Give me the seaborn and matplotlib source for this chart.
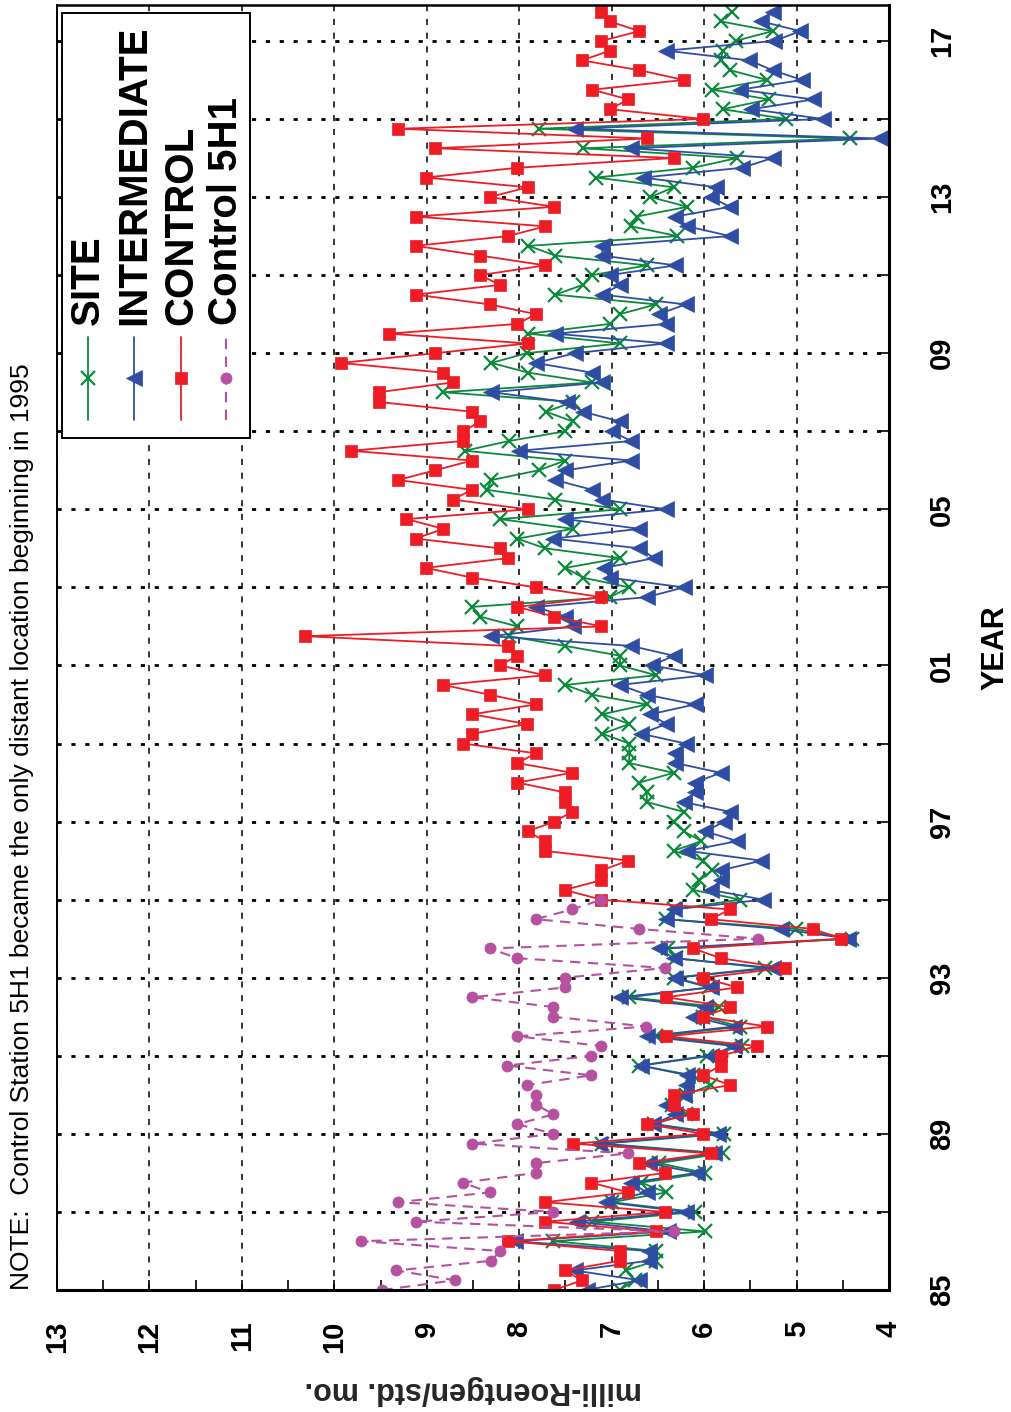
import numpy as np
import pandas as pd
import matplotlib
matplotlib.use("Agg")
import matplotlib.pyplot as plt
import seaborn as sns
from matplotlib.lines import Line2D
from matplotlib.patches import Rectangle
from matplotlib.ticker import FixedLocator, MultipleLocator

# ---------------- data (quarterly readings, first quarter 1985) ----------------
START_YEAR = 1985.0
STEP = 0.25

site = [
    6.91, 6.75, 6.85, 6.52, 6.52, 7.63, 5.99, 7.21, 6.10, 7.00,
    6.41, 6.68, 5.99, 6.49, 5.80, 7.10, 5.78, 6.54, 6.20, 6.35,
    6.20, 5.93, 6.12, 6.70, 5.97, 5.59, 6.52, 5.61, 6.01, 5.84,
    6.81, 5.95, 6.33, 5.34, 6.30, 6.39, 4.40, 5.01, 6.41, 6.33,
    5.61, 6.12, 6.05, 5.91, 6.01, 6.33, 6.03, 6.22, 6.33, 6.22,
    6.62, 6.62, 6.70, 6.33, 6.81, 6.81, 6.81, 7.10, 6.81, 7.10,
    6.62, 7.21, 7.50, 6.52, 6.91, 6.91, 7.50, 8.11, 8.02, 8.42,
    8.51, 7.02, 6.81, 7.31, 7.50, 6.91, 7.72, 8.02, 7.42, 8.21,
    6.91, 7.61, 8.35, 8.30, 7.79, 7.50, 8.59, 8.11, 7.50, 7.42,
    7.71, 7.42, 8.82, 7.21, 7.90, 8.30, 7.92, 6.91, 7.90, 7.02,
    6.91, 6.52, 7.61, 7.31, 7.21, 6.62, 7.61, 7.90, 6.29, 6.79,
    6.73, 6.18, 6.58, 6.33, 7.17, 6.12, 5.64, 7.31, 4.42, 7.79,
    5.11, 5.80, 5.30, 5.91, 5.32, 5.72, 5.82, 5.80, 5.66, 5.26,
    5.82, 5.70,
]

intermediate = [
    7.27, 6.70, 7.40, 6.60, 6.60, 8.05, 6.39, 7.38, 6.20, 7.06,
    6.62, 6.79, 6.08, 6.60, 5.89, 7.14, 5.85, 6.55, 6.31, 6.41,
    6.22, 6.20, 6.18, 6.68, 5.93, 5.68, 6.62, 5.68, 6.12, 5.99,
    6.91, 5.93, 6.31, 5.26, 6.33, 6.49, 4.44, 5.17, 6.41, 6.33,
    5.36, 5.93, 5.82, 5.82, 5.38, 6.18, 5.64, 5.99, 5.78, 5.72,
    6.22, 6.10, 6.10, 5.82, 6.31, 6.31, 6.20, 6.68, 6.41, 6.58,
    6.10, 6.62, 6.91, 5.99, 6.56, 6.33, 6.79, 8.30, 7.42, 7.50,
    7.82, 6.62, 6.22, 7.02, 7.08, 6.54, 6.70, 7.63, 6.70, 7.50,
    6.41, 7.10, 7.21, 7.61, 7.50, 6.79, 8.00, 6.79, 7.00, 6.91,
    7.31, 7.48, 8.30, 7.10, 7.21, 7.82, 7.40, 6.41, 7.61, 6.41,
    6.49, 6.20, 7.10, 6.91, 7.02, 6.31, 7.10, 7.10, 5.72, 6.18,
    6.31, 5.72, 5.93, 5.87, 6.66, 5.59, 5.26, 6.79, 4.10, 7.40,
    4.71, 5.49, 4.82, 5.61, 4.94, 5.26, 5.51, 6.41, 5.24, 4.96,
    5.38, 5.26,
]

control = [
    7.62, 7.32, 7.51, 6.91, 6.91, 8.12, 6.52, 7.72, 6.42, 7.72,
    6.82, 7.22, 6.42, 6.70, 5.93, 7.42, 6.01, 6.62, 6.12, 6.33,
    6.33, 5.72, 6.01, 5.82, 5.82, 5.43, 6.41, 5.32, 6.01, 5.72,
    6.41, 5.64, 6.01, 5.13, 5.82, 6.12, 4.52, 4.82, 5.93, 5.72,
    7.11, 7.51, 7.11, 7.11, 6.82, 7.72, 7.72, 7.91, 7.62, 7.43,
    7.51, 7.51, 8.02, 7.43, 8.02, 7.82, 8.61, 8.51, 7.92, 8.51,
    7.82, 8.32, 8.82, 7.72, 8.21, 8.02, 8.12, 10.32, 7.11, 7.62,
    8.02, 7.11, 7.82, 8.51, 9.01, 8.12, 8.21, 9.12, 8.82, 9.22,
    7.91, 8.72, 8.51, 9.31, 8.91, 8.51, 9.82, 8.61, 8.61, 8.42,
    8.51, 9.52, 9.52, 8.72, 8.82, 9.93, 8.91, 7.91, 9.41, 8.02,
    7.82, 8.32, 9.12, 8.21, 8.42, 7.72, 8.42, 9.12, 8.12, 7.72,
    9.12, 7.62, 8.32, 7.91, 9.01, 8.02, 6.33, 8.91, 6.62, 9.31,
    6.01, 7.02, 6.82, 7.21, 6.22, 6.70, 7.32, 7.02, 7.11, 6.70,
    7.02, 7.11,
]

control_5h1 = [
    9.48, 8.70, 9.33, 8.30, 8.21, 9.71, 6.33, 9.12, 7.63, 9.31,
    8.32, 8.61, 7.82, 7.82, 6.82, 8.51, 7.63, 8.02, 7.63, 7.82,
    7.82, 7.92, 7.22, 8.13, 7.22, 7.11, 8.02, 6.63, 7.63, 7.63,
    8.51, 7.51, 7.51, 6.42, 8.02, 8.32, 5.42, 6.70, 7.82, 7.43,
    7.11,
]

series_names = ["SITE", "INTERMEDIATE", "CONTROL", "Control 5H1"]
year_ticks = [1985, 1989, 1993, 1997, 2001, 2005, 2009, 2013, 2017]
year_labels = ["85", "89", "93", "97", "01", "05", "09", "13", "17"]
year_minor = [1987, 1991, 1995, 1999, 2003, 2007, 2011, 2015]
value_ticks = [13, 12, 11, 10, 9, 8, 7, 6, 5, 4]
value_labels = [str(v) for v in value_ticks]
note_text = "NOTE:  Control Station 5H1 became the only distant location beginning in 1995"
x_title = "milli-Roentgen/std. mo."
y_title = "YEAR"

# ---------------- styling ----------------
sns.set_theme(style="white")
plt.rcParams["font.family"] = ["Liberation Sans", "DejaVu Sans"]

GREEN = "#0b8a3c"
BLUE = "#2f4ea3"
RED = "#ee1c25"
MAGENTA = "#b5519f"

styles = [
    dict(color=GREEN, marker="x", markersize=10, markeredgewidth=1.6,
         markeredgecolor=GREEN, linewidth=1.3, linestyle="-"),
    dict(color=BLUE, marker="<", markersize=11, markeredgewidth=0.5,
         markeredgecolor=BLUE, linewidth=1.3, linestyle="-"),
    dict(color=RED, marker="s", markersize=9, markeredgewidth=0.5,
         markeredgecolor=RED, linewidth=1.3, linestyle="-"),
    dict(color=MAGENTA, marker="o", markersize=8, markeredgewidth=0.5,
         markeredgecolor=MAGENTA, linewidth=1.5, linestyle=(0, (5, 3.5))),
]

W, H = 1012, 1412
fig = plt.figure(figsize=(W / 100, H / 100), dpi=100)
fig.patch.set_facecolor("white")


def fx(px):
    return px / W


def fy(py):
    return 1 - py / H


AX_L, AX_R, AX_T, AX_B = 57, 889, 5, 1290
ax = fig.add_axes([fx(AX_L), fy(AX_B), fx(AX_R) - fx(AX_L), fy(AX_T) - fy(AX_B)])
ax.set_facecolor("white")

all_series = [site, intermediate, control, control_5h1]
for name, vals, st in zip(series_names, all_series, styles):
    df = pd.DataFrame({
        "value": vals,
        "year": START_YEAR + STEP * np.arange(len(vals)),
    })
    sns.lineplot(data=df, x="value", y="year", sort=False, estimator=None,
                 orient="y", ax=ax, label=name, legend=False, **st)

ax.set_xlim(13, 4)
ax.set_ylim(1985, 2017.92)

# value axis (bottom)
ax.xaxis.set_major_locator(FixedLocator(value_ticks))
ax.xaxis.set_minor_locator(MultipleLocator(0.5))
ax.set_xticklabels(value_labels, rotation=90, fontsize=21, fontweight="bold")
ax.tick_params(axis="x", which="both", direction="in", bottom=True, top=False,
               length=7, width=1.2, pad=22, colors="black")

# year axis (right)
ax.yaxis.tick_right()
ax.yaxis.set_major_locator(FixedLocator(year_ticks))
ax.yaxis.set_minor_locator(FixedLocator(year_minor))
ax.set_yticklabels(year_labels, rotation=90, fontsize=21, fontweight="bold",
                   va="center")
ax.tick_params(axis="y", which="both", direction="in", right=True, left=False,
               length=7, width=1.2, pad=28, colors="black")
ax.set_ylabel("")

# grid
ax.set_axisbelow(True)
ax.grid(False)
ax.grid(axis="x", which="major", color="black", linestyle=(0, (4, 5)), linewidth=1.1)
ax.grid(axis="y", which="both", color="black", linestyle=(0, (1.5, 3.5)), linewidth=2.0)

for side, lw in [("left", 1.4), ("right", 2.2), ("top", 1.8), ("bottom", 2.2)]:
    ax.spines[side].set_visible(True)
    ax.spines[side].set_color("black")
    ax.spines[side].set_linewidth(lw)

# axis titles
ax.set_xlabel(x_title, rotation=180, fontsize=22, fontweight="bold", va="center")
ax.xaxis.set_label_coords(0.5, -(1390 - AX_B) / (AX_B - AX_T))
fig.text(fx(995), fy(648), y_title, rotation=90, ha="center", va="center",
         fontsize=22, fontweight="bold", color="black")

# note
fig.text(fx(22), fy(1290), note_text, rotation=90, rotation_mode="anchor",
         ha="left", va="center", fontsize=19, color="black")

# ---------------- manual rotated legend ----------------
fig.add_artist(Rectangle((fx(62), fy(438)), fx(250) - fx(62), fy(13) - fy(438),
                         transform=fig.transFigure, facecolor="white",
                         edgecolor="black", linewidth=1.4, zorder=10))
legend_cols = [88, 134, 181, 226]
for name, st, xc in zip(series_names, styles, legend_cols):
    fig.add_artist(Line2D([fx(xc), fx(xc)], [fy(420), fy(337)],
                          transform=fig.transFigure, color=st["color"],
                          linewidth=st["linewidth"], linestyle=st["linestyle"],
                          zorder=11))
    fig.add_artist(Line2D([fx(xc)], [fy(378)], transform=fig.transFigure,
                          color=st["color"], marker=st["marker"],
                          markersize=st["markersize"],
                          markeredgewidth=st["markeredgewidth"],
                          markeredgecolor=st["markeredgecolor"],
                          linestyle="none", zorder=12))
    fig.text(fx(xc), fy(325), name, rotation=90, rotation_mode="anchor",
             ha="left", va="center", fontsize=29, fontweight="bold",
             color="black", zorder=13)

fig.savefig("out.png", dpi=100, facecolor="white")
